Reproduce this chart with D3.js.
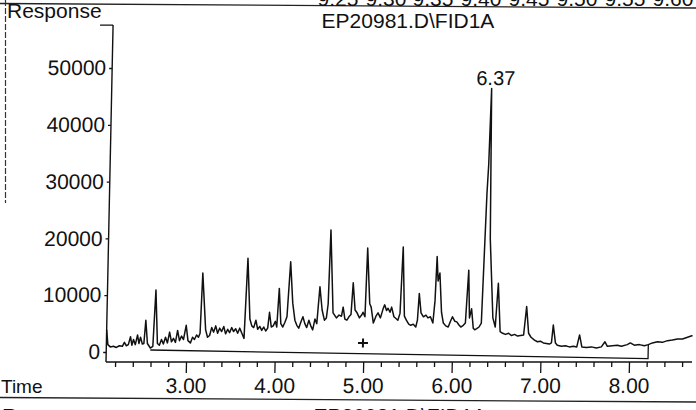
<!DOCTYPE html>
<html><head><meta charset="utf-8">
<script src="https://cdn.jsdelivr.net/npm/d3@7"></script>
<style>
html,body{margin:0;padding:0;background:#fff;}
svg{display:block;font-family:"Liberation Sans",Arial,Helvetica,sans-serif;}
</style>
</head><body>
<svg id="chart" width="696" height="410"></svg>
<script>
// ---- data (time in min, detector response) ----
const retentionTimes = [
2.097,2.114,2.142,2.176,2.210,2.244,2.278,2.300,2.323,2.345,
2.368,2.385,2.402,2.424,2.447,2.464,2.481,2.503,2.520,2.537,
2.560,2.594,2.622,2.644,2.673,2.695,2.718,2.740,2.763,2.786,
2.808,2.831,2.853,2.876,2.898,2.921,2.944,2.966,2.994,3.017,
3.045,3.068,3.090,3.113,3.135,3.152,3.169,3.214,3.237,3.260,
3.282,3.305,3.327,3.350,3.372,3.395,3.418,3.440,3.463,3.485,
3.508,3.530,3.553,3.576,3.598,3.621,3.649,3.675,3.711,3.734,
3.756,3.779,3.801,3.824,3.847,3.869,3.892,3.914,3.931,3.954,
3.976,3.999,4.016,4.036,4.061,4.084,4.106,4.129,4.158,4.191,
4.219,4.242,4.264,4.287,4.309,4.332,4.354,4.377,4.400,4.422,
4.445,4.467,4.494,4.524,4.552,4.574,4.591,4.605,4.648,4.687,
4.716,4.744,4.761,4.783,4.806,4.828,4.851,4.869,4.896,4.919,
4.947,4.975,4.986,5.009,5.024,5.060,5.077,5.105,5.133,5.156,
5.184,5.212,5.229,5.251,5.268,5.291,5.308,5.336,5.359,5.381,
5.404,5.425,5.454,5.477,5.505,5.528,5.556,5.585,5.602,5.617,
5.641,5.669,5.697,5.720,5.748,5.777,5.796,5.810,5.826,5.845,
5.872,5.895,5.923,5.951,5.980,5.997,6.025,6.047,6.070,6.093,
6.121,6.144,6.170,6.189,6.211,6.234,6.251,6.273,6.299,6.324,
6.340,6.357,6.370,6.385,6.405,6.453,6.482,6.507,6.538,6.567,
6.600,6.634,6.668,6.702,6.736,6.770,6.804,6.832,6.860,6.888,
6.928,6.962,6.995,7.029,7.063,7.097,7.120,7.137,7.165,7.187,
7.233,7.278,7.323,7.368,7.407,7.436,7.464,7.515,7.571,7.628,
7.684,7.724,7.752,7.808,7.865,7.910,7.976,8.010,8.056,8.112,
8.169,8.214,8.260,8.316,8.372,8.429,8.485,8.542,8.598,8.655,
8.711];
const responses = [
3900,1300,900,1000,800,1100,1000,1700,1100,1300,
2700,1200,2200,1300,3000,1500,2600,1400,1500,5600,
1500,700,1000,10900,1500,1200,2200,1400,2600,1600,
3500,1800,2400,1700,3800,2000,2800,2200,4700,2000,
1600,2600,2200,3000,2600,3300,13900,3900,2600,2900,
4300,3500,4600,3300,4200,3600,4500,3200,4000,3400,
4300,3600,4100,3300,4200,3400,2400,16500,5800,4600,
4300,5600,4000,4500,3800,4400,3700,4200,7000,4400,
4600,5400,4400,11200,5000,4400,5200,6200,15900,8600,
5600,4700,4200,5300,6200,5000,4300,5600,4600,3900,
5800,5000,11500,7400,5600,6000,8500,21500,6900,6000,
6500,6300,7900,5800,5600,6200,6600,12200,7400,6900,
6000,6600,7000,6200,18300,8500,7900,5100,6300,6900,
6000,7600,8300,7300,7700,7000,7900,6200,5900,5600,
6800,18500,6300,5600,4900,4700,4900,4400,5600,10300,
6900,6200,6500,6000,6200,5100,9000,16800,12500,13900,
7000,5100,4600,4400,5600,6200,5400,5300,4800,4400,
4700,5100,14400,6000,7600,4200,3900,4100,4400,5100,
16200,27900,33000,46400,20000,6000,4400,12100,3600,3300,
3100,3300,2900,3100,2800,2900,3000,8000,3300,2600,
2100,1800,1900,1600,1500,1400,1600,4750,1600,1200,
1000,1100,900,1000,900,3000,900,800,900,700,
900,1800,1000,1100,1200,1000,1300,1600,1200,1300,
1100,1300,1600,1800,1700,2000,2100,2300,2300,2600,
2900];
const yTickValues = [0,10000,20000,30000,40000,50000];
const xMajorTicks = [3,4,5,6,7,8];
const xMinorTicks = [2.2,2.4,2.6,2.8,3.2,3.4,3.6,3.8,4.2,4.4,4.6,4.8,5.2,5.4,5.6,5.8,6.2,6.4,6.6,6.8,7.2,7.4,7.6,7.8,8.2,8.4,8.6];
const xRange = [2.097, 8.711];
const yRange = [-1760, 57550];
const baselineTimes = [2.594, 8.214];
const baselineValues = [350, -1150];
const baselineEndTop = [1300];
const peakLabelTime = [6.385];
const peakLabelText = ["6.37"];
const markerTime = [4.993];
const markerValue = [1580];
const prevAxisLabels = ["9.25","9.30","9.35","9.40","9.45","9.50","9.55","9.60"];
const prevAxisCenters = [338,386,433,481,529,577,625,673];
const titleText = "EP20981.D\\FID1A";

// ---- drawing ----
const svg = d3.select("#chart");
const ink = "#111";
const x = d3.scaleLinear().domain([3, 8]).range([186, 629]);
const y = d3.scaleLinear().domain([0, 50000]).range([352, 68]);

// scan skew: vertical lines lean to the right toward the top
const k = 0.021, y0 = 362;
const g = svg.append("g")
  .attr("transform", `translate(${k*y0},0) skewX(${-Math.atan(k)*180/Math.PI})`);

// y axis
const yAx = g.append("g").attr("transform", `translate(${x(xRange[0])},0)`)
  .call(d3.axisLeft(y).tickValues(yTickValues).tickSize(3).tickPadding(3).tickFormat(d3.format("d")));
yAx.select(".domain").remove();
yAx.selectAll("line").attr("stroke", ink).attr("stroke-width", 1.2);
yAx.selectAll("text").attr("font-size", 21).attr("fill", ink).attr("font-family", null);
g.append("line").attr("x1", x(xRange[0])).attr("x2", x(xRange[0]))
  .attr("y1", y(yRange[1])).attr("y2", y(yRange[0])).attr("stroke", ink).attr("stroke-width", 1.4);
g.append("line").attr("x1", x(xRange[0]) - 13).attr("x2", x(xRange[0]))
  .attr("y1", y(yRange[1])).attr("y2", y(yRange[1])).attr("stroke", ink).attr("stroke-width", 1.2);

// x axis
const xAxisY = y(yRange[0]);
const xMin = g.append("g").attr("transform", `translate(0,${xAxisY})`)
  .call(d3.axisBottom(x).tickValues(xMinorTicks).tickSize(5).tickFormat(""));
xMin.select(".domain").remove();
const xMaj = g.append("g").attr("transform", `translate(0,${xAxisY})`)
  .call(d3.axisBottom(x).tickValues(xMajorTicks).tickSize(11).tickPadding(5).tickFormat(d3.format(".2f")));
xMaj.select(".domain").remove();
g.selectAll(".tick line").attr("stroke", ink).attr("stroke-width", 1.3);
xMaj.selectAll("text").attr("font-size", 21).attr("fill", ink).attr("font-family", null);
g.append("line").attr("x1", x(xRange[0])).attr("x2", x(xRange[1]))
  .attr("y1", xAxisY).attr("y2", xAxisY).attr("stroke", ink).attr("stroke-width", 1.4);

// integration baseline bracket
const bl = d3.line().x(d => x(d[0])).y(d => y(d[1]));
g.append("path")
  .attr("d", bl([[baselineTimes[0], baselineValues[0]], [baselineTimes[1], baselineValues[1]], [baselineTimes[1], baselineEndTop[0]]]))
  .attr("fill", "none").attr("stroke", ink).attr("stroke-width", 1.3);

// trace
const pts = retentionTimes.map((t, i) => [t, responses[i]]);
g.append("path").attr("d", d3.line().x(d => x(d[0])).y(d => y(d[1]))(pts))
  .attr("fill", "none").attr("stroke", ink).attr("stroke-width", 1.5).attr("stroke-linejoin", "round");

// peak label
g.append("text").attr("x", x(peakLabelTime[0]) + 4).attr("y", 85)
  .attr("text-anchor", "middle").attr("font-size", 20).attr("fill", ink).text(peakLabelText[0]);

// "+" marker
const mx = x(markerTime[0]), my = y(markerValue[0]);
g.append("path").attr("d", `M${mx-5},${my}H${mx+5}M${mx},${my-4.5}V${my+4.5}`)
  .attr("stroke", ink).attr("stroke-width", 2);

// ---- page furniture (not skewed) ----
svg.append("text").attr("x", 7).attr("y", 18).attr("font-size", 21).attr("fill", ink).text("Response");
svg.append("text").attr("x", 408).attr("y", 28).attr("text-anchor", "middle").attr("font-size", 21).attr("fill", ink).text(titleText);
svg.append("text").attr("x", 1).attr("y", 393).attr("font-size", 19).attr("fill", ink).text("Time");
svg.append("line").attr("x1", 0).attr("y1", 397.5).attr("x2", 696).attr("y2", 402).attr("stroke", "#222").attr("stroke-width", 1.3);
svg.append("text").attr("x", 2).attr("y", 423).attr("font-size", 21).attr("fill", ink).text("Response");
svg.append("text").attr("x", 400).attr("y", 423).attr("text-anchor", "middle").attr("font-size", 21).attr("fill", ink).text(titleText);
// previous chart remnants at top
svg.append("line").attr("x1", 0).attr("y1", 3.5).attr("x2", 696).attr("y2", 8).attr("stroke", "#222").attr("stroke-width", 1.3);
svg.selectAll("text.prev").data(prevAxisLabels).join("text").attr("class", "prev")
  .attr("x", (d, i) => prevAxisCenters[i]).attr("y", 6).attr("text-anchor", "middle")
  .attr("font-size", 21).attr("fill", ink).text(d => d);
svg.append("line").attr("x1", 5.5).attr("y1", 0).attr("x2", 5.5).attr("y2", 203)
  .attr("stroke", "#333").attr("stroke-width", 1.2).attr("stroke-dasharray", "6,2");
</script>
</body></html>
